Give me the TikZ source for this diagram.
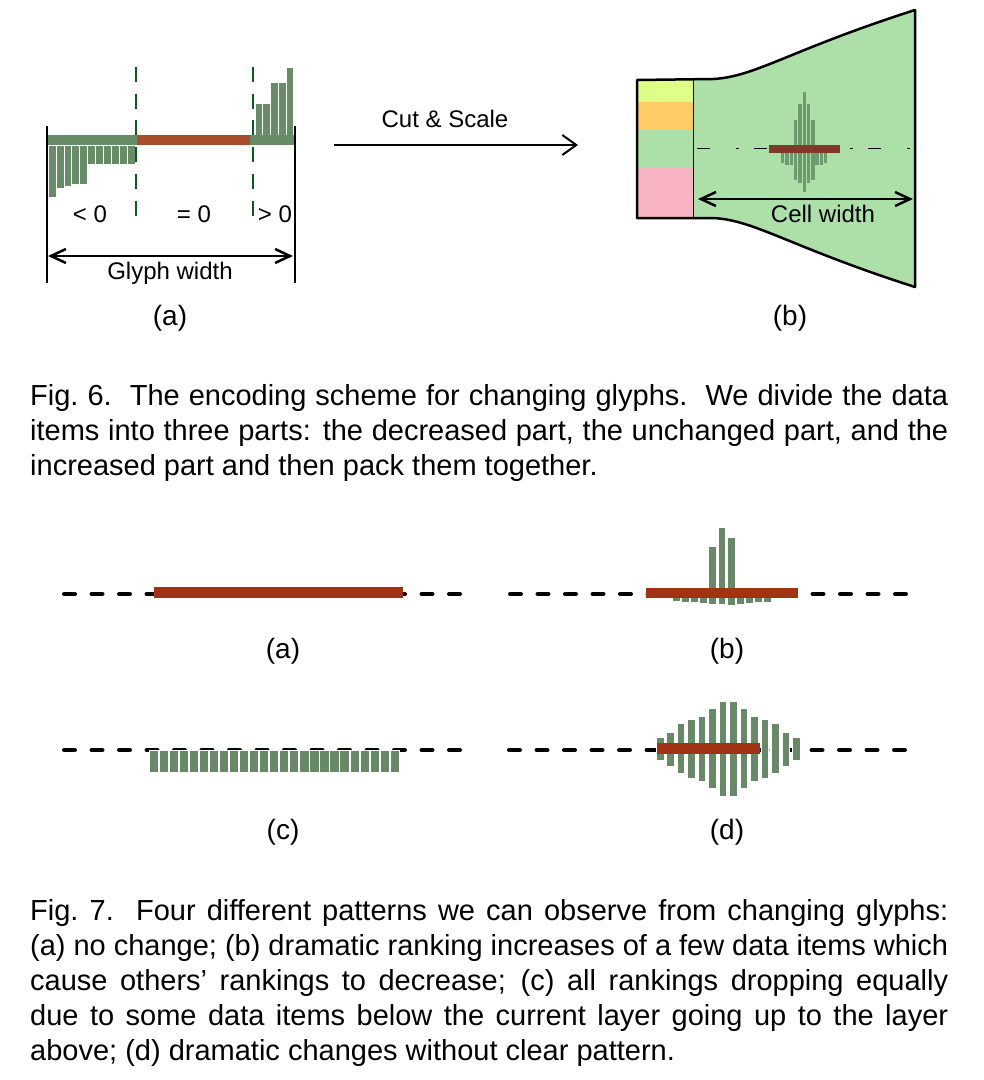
\documentclass[tikz,border=0pt]{standalone}
\usepackage{fontspec}
\setmainfont{Liberation Sans}
\usetikzlibrary{arrows.meta}
\definecolor{gA}{HTML}{688C68}
\definecolor{rA}{HTML}{A64D2E}
\definecolor{rL}{HTML}{A23214}
\definecolor{gL}{HTML}{678967}
\definecolor{gB}{HTML}{6E9B6E}
\definecolor{rB}{HTML}{7F3A2A}
\definecolor{cellfill}{HTML}{ADDFA9}
\definecolor{cyel}{HTML}{DDFF88}
\definecolor{corg}{HTML}{FFCC66}
\definecolor{cpink}{HTML}{F9B4C4}
\definecolor{dgreen}{HTML}{0B5A1E}
\tikzset{
  bar/.style={fill=#1, draw=white, line width=0.6pt},
  lbl/.style={font=\fontsize{24}{28}\selectfont, anchor=base, inner sep=0pt},
  sub/.style={font=\fontsize{28}{32}\selectfont, anchor=base, inner sep=0pt},
  capline/.style={font=\fontsize{29}{35}\selectfont, anchor=base west, inner sep=0pt},
  baseline dash/.style={line width=4pt, line cap=round, dash pattern=on 11pt off 16.5pt},
  gdash/.style={dgreen, line width=2.7pt, dash pattern=on 15pt off 11.7pt},
  dimarrow/.style={line width=2.5pt, {Straight Barb[length=15pt,width=14pt]}-{Straight Barb[length=15pt,width=14pt]}},
}
\begin{document}
\begin{tikzpicture}[x=1pt,y=-1pt]
\useasboundingbox (0,0) rectangle (984,1080);

% ---------- Fig 6 (a): glyph ----------
\foreach \b [count=\i] in {197,188,186,184,184,164,164,164,164,164,164}
  \path[bar=gA] ({48+(\i-1)*7.9},145) rectangle ({48+\i*7.9},\b);
\foreach \t [count=\i] in {103,103,82,82,67}
  \path[bar=gA] ({255+(\i-1)*7.7},135) rectangle ({255+\i*7.7},\t);
\fill[gA] (47,135) rectangle (137,145);
\fill[gA] (250,135) rectangle (294,145);
\fill[rA] (137,135) rectangle (250,145);
\draw[gdash] (136,67) -- (136,226);
\draw[gdash] (253,67) -- (253,226);
\draw[line width=2.5pt] (47,126) -- (47,283);
\draw[line width=2.5pt] (295,126) -- (295,283);
\node[lbl] (lt) at (90,222) {< 0};
\node[lbl] (eq) at (194,222) {= 0};
\node[lbl] (gt) at (275,222) {> 0};
\coordinate (gwl) at (48,256);
\coordinate (gwr) at (293,256);
\draw[dimarrow] (gwl) -- (gwr);
\node[lbl] (gw) at (170,279) {Glyph width};
\node[sub] (sa) at (170,325) {(a)};

% ---------- Cut & Scale ----------
\coordinate (cs1) at (334,145);
\coordinate (cs2) at (578,145);
\draw[line width=2pt, -{Straight Barb[length=14pt,width=20pt]}] (cs1) -- (cs2);
\node[lbl] (cs) at (445,127) {Cut \& Scale};

% ---------- Fig 6 (b): cell ----------
\fill[cellfill] (637,80) -- (713,79) .. controls (755,77) and (790,50) .. (915,10)
  -- (915,287) .. controls (790,247) and (755,220) .. (713,218) -- (637,218) -- cycle;
\fill[cyel] (637,80) rectangle (693,102);
\fill[corg] (637,102) rectangle (693,130);
\fill[cpink] (637,168) rectangle (693,218);
\draw[line width=1pt] (693,80) -- (693,218);
\draw[line width=1pt, dash pattern=on 13pt off 26pt on 3pt off 15pt] (697,148) -- (913,148);
\foreach \t/\b [count=\i] in {148/163,148/165,148/165,120/180,104/183,92/192,104/183,120/180,148/165,148/165,148/163}
  \fill[gB] ({782.7+(\i-1)*4.3-1.7},\t) rectangle ({782.7+(\i-1)*4.3+1.7},\b);
\fill[rB] (769,145) rectangle (840,153);
\draw[line width=2.5pt, line join=round] (637,80) -- (713,79) .. controls (755,77) and (790,50) .. (915,10)
  -- (915,287) .. controls (790,247) and (755,220) .. (713,218) -- (637,218) -- cycle;
\coordinate (cwl) at (698,199);
\coordinate (cwr) at (913,199);
\draw[dimarrow] (cwl) -- (cwr);
\node[lbl] (cw) at (823,222) {Cell width};
\node[sub] (sb) at (790,325) {(b)};

% ---------- Fig 6 caption ----------
\node[capline] (c6a) at (30,405) {\hbox to 918pt{Fig.\ 6.\ \ The encoding scheme for changing glyphs.\ \ We divide the data}};
\node[capline] (c6b) at (30,440) {\hbox to 918pt{items into three parts: the decreased part, the unchanged part, and the}};
\node[capline] (c6c) at (30,475) {increased part and then pack them together.};

% ---------- Fig 7 (a) ----------
\draw[baseline dash] (64,594) -- (463,594);
\fill[rL] (154,587) rectangle (403,598);
\node[sub] (pa) at (283,658) {(a)};

% ---------- Fig 7 (b) ----------
\draw[baseline dash] (510,594) -- (911,594);
\foreach \t/\b [count=\i] in {594/601,594/602,594/602,594/603,546/604,527/604,537/605,594/604,594/603,594/602,594/602}
  \path[bar=gL] ({676+(\i-1)*9.15-3.9},\t) rectangle ({676+(\i-1)*9.15+3.9},\b);
\fill[rL] (646,588) rectangle (798,598);
\node[sub] (pb) at (727,658) {(b)};

% ---------- Fig 7 (c) ----------
\draw[baseline dash] (64,750) -- (463,750);
\foreach \i in {0,...,24}
  \path[bar=gL] ({149+\i*10.04},750) rectangle ({149+\i*10.04+9.2},772);
\node[sub] (pc) at (283,839) {(c)};

% ---------- Fig 7 (d) ----------
\draw[baseline dash] (509,750) -- (910,750);
\foreach \t/\b [count=\i] in {737/760,732/766,723/773,719/778,716/781,708/788,701/796,701/796,708/788,716/781,719/778,723/773,732/766,737/760}
  \path[bar=gL] ({660+(\i-1)*10.48-3.8},\t) rectangle ({660+(\i-1)*10.48+3.8},\b);
\fill[rL] (657,743) rectangle (760,754);
\node[sub] (pd) at (727,839) {(d)};

% ---------- Fig 7 caption ----------
\node[capline] (c7a) at (30,920) {\hbox to 918pt{Fig.\ 7.\ \ Four different patterns we can observe from changing glyphs:}};
\node[capline] (c7b) at (30,955) {\hbox to 918pt{(a) no change; (b) dramatic ranking increases of a few data items which}};
\node[capline] (c7c) at (30,990) {\hbox to 918pt{cause others’ rankings to decrease; (c) all rankings dropping equally}};
\node[capline] (c7d) at (30,1025) {\hbox to 918pt{due to some data items below the current layer going up to the layer}};
\node[capline] (c7e) at (30,1060) {above; (d) dramatic changes without clear pattern.};
\end{tikzpicture}
\end{document}
